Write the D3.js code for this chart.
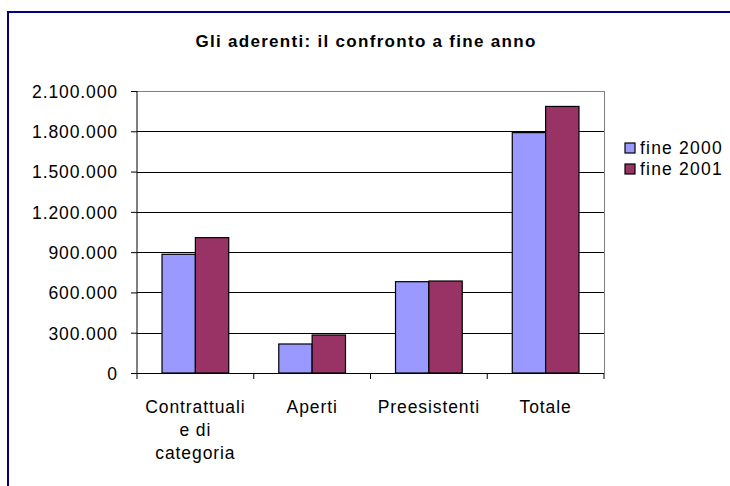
<!DOCTYPE html>
<html>
<head>
<meta charset="utf-8">
<script src="https://cdn.jsdelivr.net/npm/d3@7"></script>
<style>
    body { margin: 0; background: #fff; }
    svg { display: block; font-family: "Liberation Sans", Arial, sans-serif; }
</style>
</head>
<body>
<div id="chart"></div>
<script>
const categories = [['Contrattuali', 'e di', 'categoria'], ['Aperti'], ['Preesistenti'], ['Totale']];
const seriesNames = ['fine 2000', 'fine 2001'];
const fine2000 = [884000, 216000, 680000, 1790000];
const fine2001 = [1008000, 283000, 685000, 1985000];
const yTicks = [0, 300000, 600000, 900000, 1200000, 1500000, 1800000, 2100000];
const colors = ['#9999FF', '#993366'];

const width = 730, height = 486;
const plot = {left: 137, top: 91, right: 604, bottom: 373};
const labelSize = 17.5, labelSpacing = 0.9;

const svg = d3.select('#chart')
    .append('svg')
    .attr('width', width)
    .attr('height', height);

// chart frame (cropped at right and bottom)
svg.append('rect')
    .attr('x', 8)
    .attr('y', 12)
    .attr('width', width + 20)
    .attr('height', height + 20)
    .attr('fill', '#fff')
    .attr('stroke', '#000080')
    .attr('stroke-width', 2);

svg.append('text')
    .attr('x', 366)
    .attr('y', 47)
    .attr('text-anchor', 'middle')
    .attr('font-size', 17)
    .attr('font-weight', 'bold')
    .attr('letter-spacing', 1.3)
    .text('Gli aderenti: il confronto a fine anno');

const x = d3.scaleBand()
    .domain(d3.range(categories.length))
    .range([plot.left, plot.right]);

const x1 = d3.scaleBand()
    .domain(d3.range(seriesNames.length))
    .range([0, x.bandwidth()])
    .paddingOuter(0.75)
    .paddingInner(0);

const y = d3.scaleLinear()
    .domain([0, 2100000])
    .range([plot.bottom, plot.top]);

const fmt = d => d3.format(',')(d).replace(/,/g, '.');

// gridlines
svg.append('g')
    .selectAll('line')
    .data(yTicks.slice(1))
    .enter()
    .append('line')
    .attr('x1', plot.left)
    .attr('x2', plot.right)
    .attr('y1', d => Math.round(y(d)) + 0.5)
    .attr('y2', d => Math.round(y(d)) + 0.5)
    .attr('stroke', d => d === 2100000 ? '#808080' : '#000')
    .attr('stroke-width', 1);

svg.append('line')
    .attr('x1', plot.right + 0.5)
    .attr('x2', plot.right + 0.5)
    .attr('y1', plot.top)
    .attr('y2', plot.bottom)
    .attr('stroke', '#808080');

// bars
const data = [fine2000, fine2001];
const groups = svg.append('g')
    .selectAll('g')
    .data(categories)
    .enter()
    .append('g')
    .attr('transform', (d, i) => `translate(${x(i)},0)`);

groups.selectAll('rect')
    .data((d, i) => data.map((s, j) => ({series: j, value: s[i]})))
    .enter()
    .append('rect')
    .attr('x', d => x1(d.series))
    .attr('y', d => y(d.value))
    .attr('width', x1.bandwidth())
    .attr('height', d => plot.bottom - y(d.value))
    .attr('fill', d => colors[d.series])
    .attr('stroke', '#000')
    .attr('stroke-width', 1.2);

// y axis
const yAxis = svg.append('g')
    .attr('transform', `translate(${plot.left},0)`)
    .call(d3.axisLeft(y).tickValues(yTicks).tickFormat(fmt).tickSize(6).tickPadding(13));
yAxis.select('.domain').attr('d', `M0,${plot.top}V${plot.bottom}`).attr('stroke', '#000');
yAxis.selectAll('.tick line').attr('stroke', '#000');
yAxis.selectAll('.tick text')
    .attr('font-size', labelSize)
    .attr('letter-spacing', labelSpacing)
    .attr('fill', '#000')
    .attr('dy', '0.36em')
    .style('font-family', '"Liberation Sans", Arial, sans-serif');

// x axis
const xAxis = svg.append('g')
    .attr('transform', `translate(0,${plot.bottom})`);
xAxis.append('line')
    .attr('x1', plot.left)
    .attr('x2', plot.right)
    .attr('y1', 0.5)
    .attr('y2', 0.5)
    .attr('stroke', '#000');
xAxis.selectAll('line.tick')
    .data(d3.range(categories.length + 1))
    .enter()
    .append('line')
    .attr('class', 'tick')
    .attr('x1', i => i < categories.length ? x(i) : plot.right)
    .attr('x2', i => i < categories.length ? x(i) : plot.right)
    .attr('y1', 0)
    .attr('y2', 6)
    .attr('stroke', '#000');

const labels = xAxis.selectAll('text')
    .data(categories)
    .enter()
    .append('text')
    .attr('text-anchor', 'middle')
    .attr('font-size', labelSize)
    .attr('letter-spacing', labelSpacing)
    .attr('y', 40);
labels.selectAll('tspan')
    .data((d, i) => d.map(t => ({t: t, i: i})))
    .enter()
    .append('tspan')
    .attr('x', d => x(d.i) + x.bandwidth() / 2)
    .attr('dy', (d, k) => k === 0 ? 0 : 23)
    .text(d => d.t);

// legend
const legend = svg.append('g')
    .selectAll('g')
    .data(seriesNames)
    .enter()
    .append('g')
    .attr('transform', (d, i) => `translate(625,${143 + i * 21})`);
legend.append('rect')
    .attr('width', 10)
    .attr('height', 10)
    .attr('fill', (d, i) => colors[i])
    .attr('stroke', '#000')
    .attr('stroke-width', 1.2);
legend.append('text')
    .attr('x', 15)
    .attr('y', 11)
    .attr('font-size', labelSize)
    .attr('letter-spacing', 1.2)
    .text(d => d);
</script>
</body>
</html>
